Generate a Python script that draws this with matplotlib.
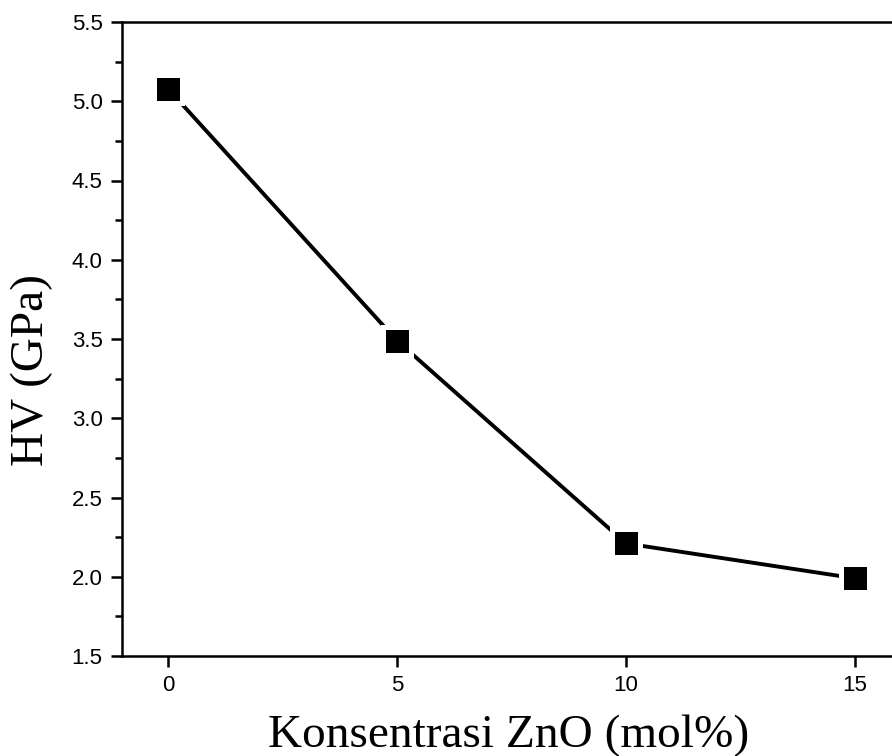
import matplotlib
matplotlib.use("Agg")
import matplotlib.pyplot as plt
from matplotlib.ticker import MultipleLocator, FormatStrFormatter

zno = [0, 5, 10, 15]
hv = [5.08, 3.49, 2.21, 1.99]

fig = plt.figure(figsize=(8.92, 7.56), dpi=100)
ax = fig.add_axes([122/892, 100/756, 779/892, 634/756])

ax.plot(zno, hv, color="black", lw=2.8, zorder=2)
ax.plot(zno, hv, ls="none", marker="s", markersize=19.5, markerfacecolor="black",
        markeredgecolor="white", markeredgewidth=3.6, zorder=3)

ax.set_xlim(-1, 16)
ax.set_ylim(1.5, 5.5)
ax.set_xticks([0, 5, 10, 15])
ax.yaxis.set_major_locator(MultipleLocator(0.5))
ax.yaxis.set_minor_locator(MultipleLocator(0.25))
ax.yaxis.set_major_formatter(FormatStrFormatter("%.1f"))

for s in ["left", "bottom", "top"]:
    ax.spines[s].set_linewidth(1.8)
ax.spines["right"].set_visible(False)

ax.tick_params(axis="both", which="major", direction="out", length=8, width=1.8,
               labelsize=16, pad=6)
ax.tick_params(axis="y", which="minor", direction="out", length=5, width=1.8)
for lbl in ax.get_xticklabels() + ax.get_yticklabels():
    lbl.set_fontfamily("Liberation Sans")

ax.set_xlabel("Konsentrasi ZnO (mol%)", fontsize=34, fontfamily="Liberation Serif")
ax.set_ylabel("HV (GPa)", fontsize=34, fontfamily="Liberation Serif")
ax.xaxis.set_label_coords((509-122)/779, (656-715)/634)
ax.yaxis.set_label_coords((53-122)/779, (656-370)/634)

fig.savefig("out.png", dpi=100)
